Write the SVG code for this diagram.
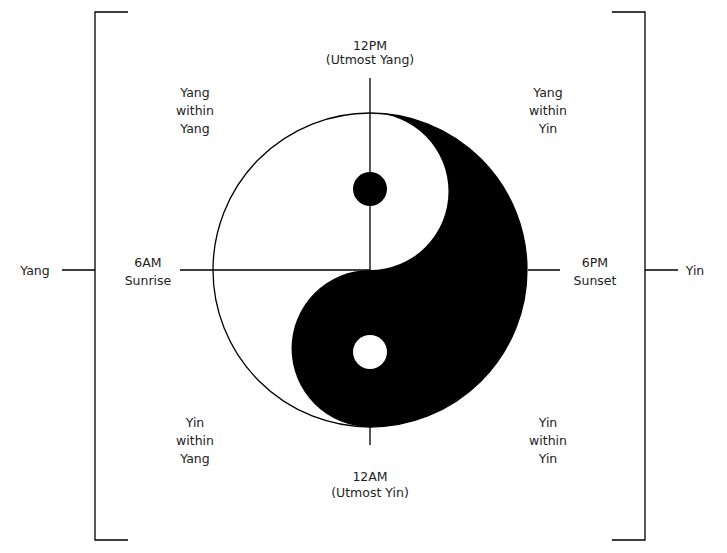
<svg xmlns="http://www.w3.org/2000/svg" width="727" height="553" viewBox="0 0 727 553">
<style>
.l{stroke:#000;stroke-width:1.3;fill:none}
text{font-family:"DejaVu Sans",Verdana,sans-serif;font-size:12.5px;fill:#222;text-anchor:middle}
</style>
<rect width="727" height="553" fill="#fff"/>
<g id="connectors">
<path class="l" d="M128 12H95V540H128M612 12H645V540H612M62 270H95M645 270H678"/>
<path class="l" d="M370 78V270M370 427V445M180 270H370M528 270H560"/>
</g>
<g id="yinyang">
<circle cx="370" cy="270" r="157" class="l"/>
<path d="M370 113A157 157 0 0 1 370 427A78.5 78.5 0 0 1 370 270A78.5 78.5 0 0 0 370 113Z" fill="#000"/>
<circle cx="370" cy="189" r="17" fill="#000"/>
<circle cx="370" cy="352" r="17" fill="#fff"/>
</g>
<g id="labels">
<text x="370" y="50">12PM</text><text x="370" y="64">(Utmost Yang)</text>
<text x="195" y="97">Yang</text><text x="195" y="115">within</text><text x="195" y="133">Yang</text>
<text x="548" y="97">Yang</text><text x="548" y="115">within</text><text x="548" y="133">Yin</text>
<text x="148" y="267">6AM</text><text x="148" y="285">Sunrise</text>
<text x="595" y="267">6PM</text><text x="595" y="285">Sunset</text>
<text x="35" y="275">Yang</text><text x="695" y="275">Yin</text>
<text x="195" y="427">Yin</text><text x="195" y="445">within</text><text x="195" y="463">Yang</text>
<text x="548" y="427">Yin</text><text x="548" y="445">within</text><text x="548" y="463">Yin</text>
<text x="370" y="481">12AM</text><text x="370" y="497">(Utmost Yin)</text>
</g>
</svg>
